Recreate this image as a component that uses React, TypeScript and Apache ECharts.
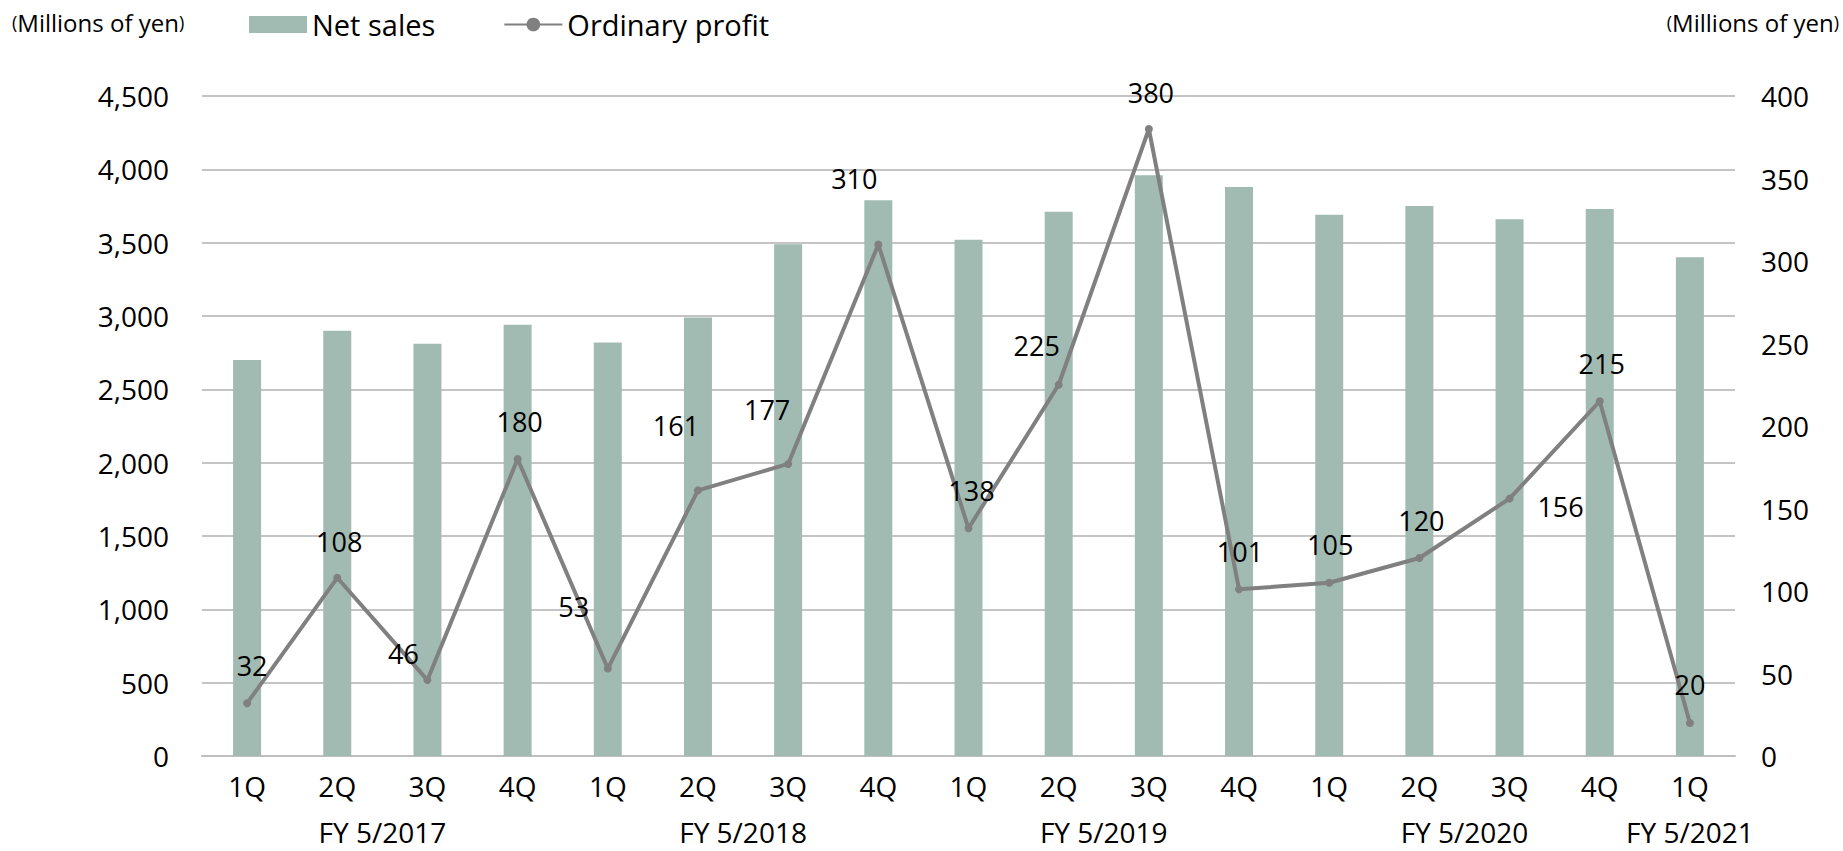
import React, { useEffect, useRef } from "react";
import * as echarts from "echarts";

const quarters = ["1Q", "2Q", "3Q", "4Q", "1Q", "2Q", "3Q", "4Q", "1Q", "2Q", "3Q", "4Q", "1Q", "2Q", "3Q", "4Q", "1Q"];
const fiscalYears = ["FY 5/2017", "FY 5/2018", "FY 5/2019", "FY 5/2020", "FY 5/2021"];
const fiscalYearCenters = [1.5, 5.5, 9.5, 13.5, 16];
const netSales = [2700, 2900, 2810, 2940, 2820, 2990, 3490, 3790, 3520, 3710, 3960, 3880, 3690, 3750, 3660, 3730, 3400];
const ordinaryProfit = [32, 108, 46, 180, 53, 161, 177, 310, 138, 225, 380, 101, 105, 120, 156, 215, 20];
const labelOffsets: [number, number][] = [
  [5, -38], [2, -36], [-24, -27], [2, -38], [-34, -62], [-22, -65], [-21, -54], [-24, -66],
  [3, -38], [-22, -39], [2, -37], [1, -38], [1, -38], [2, -38], [51, 8], [2, -38], [0, -39],
];

const FONT = "'Open Sans', 'Noto Sans', sans-serif";

export default function App() {
  const ref = useRef<HTMLDivElement>(null);
  useEffect(() => {
    if (!ref.current) return;
    const chart = echarts.init(ref.current, undefined, { renderer: "svg" });
    const unitText = {
      text: "{p|(}Millions of yen{p|)}",
      rich: {
        p: { fontSize: 18, fontFamily: FONT, fill: "#000" },
      },
      fontSize: 24,
      fontFamily: FONT,
      fill: "#000",
    };
    chart.setOption({
      animation: false,
      backgroundColor: "#ffffff",
      textStyle: { fontFamily: FONT },
      legend: {
        left: 244,
        top: 5,
        itemWidth: 58,
        itemHeight: 17,
        itemGap: 68,
        textStyle: { fontSize: 29, color: "#000", fontFamily: FONT },
        data: [
          { name: "Net sales", icon: "rect" },
          { name: "Ordinary profit" },
        ],
      },
      graphic: [
        { type: "text", left: 12, top: 10, style: unitText },
        { type: "text", right: 4, top: 10, style: unitText },
      ],
      grid: { left: 202, right: 108, top: 96, bottom: 95, containLabel: false },
      xAxis: [
        {
          type: "category",
          data: quarters,
          axisLine: { lineStyle: { color: "#bfbfbf", width: 2 } },
          axisTick: { show: false },
          axisLabel: { fontSize: 28, color: "#000", margin: 16, fontFamily: FONT },
        },
        {
          type: "value",
          min: -0.5,
          max: 16.5,
          position: "bottom",
          offset: 46,
          axisLine: { show: false },
          axisTick: { show: false },
          splitLine: { show: false },
          axisLabel: {
            customValues: fiscalYearCenters,
            fontSize: 28,
            color: "#000",
            margin: 16,
            fontFamily: FONT,
            formatter: (v: number) => {
              const i = fiscalYearCenters.indexOf(v);
              return i >= 0 ? fiscalYears[i] : "";
            },
          },
        },
      ],
      yAxis: [
        {
          type: "value",
          min: 0,
          max: 4500,
          interval: 500,
          axisLine: { show: false },
          axisTick: { show: false },
          splitLine: { lineStyle: { color: "#c4c4c4", width: 2 } },
          axisLabel: {
            fontSize: 28,
            color: "#000",
            margin: 33,
            fontFamily: FONT,
            formatter: (v: number) => v.toLocaleString("en-US"),
          },
        },
        {
          type: "value",
          min: 0,
          max: 400,
          interval: 50,
          axisLine: { show: false },
          axisTick: { show: false },
          splitLine: { show: false },
          axisLabel: { fontSize: 28, color: "#000", margin: 26, fontFamily: FONT },
        },
      ],
      series: [
        {
          name: "Net sales",
          type: "bar",
          data: netSales,
          barWidth: 28,
          itemStyle: { color: "#a1bbb3" },
          xAxisIndex: 0,
          yAxisIndex: 0,
          z: 1,
        },
        {
          name: "Ordinary profit",
          type: "line",
          xAxisIndex: 0,
          yAxisIndex: 1,
          symbol: "circle",
          symbolSize: 8,
          lineStyle: { color: "#808080", width: 4 },
          itemStyle: { color: "#808080" },
          z: 3,
          data: ordinaryProfit.map((v, i) => ({
            value: v,
            label: {
              show: true,
              position: "inside",
              offset: labelOffsets[i],
              fontSize: 27,
              color: "#000",
              fontFamily: FONT,
            },
          })),
        },
      ],
    });
    return () => chart.dispose();
  }, []);
  return (
    <div
      ref={ref}
      style={{ position: "fixed", left: 0, top: 0, width: 1843, height: 851 }}
    />
  );
}
